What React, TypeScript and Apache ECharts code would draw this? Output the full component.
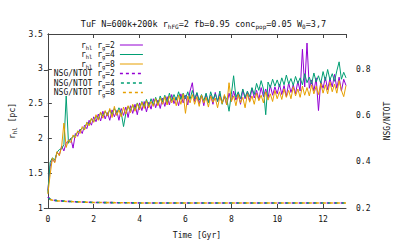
import React, { useEffect, useRef } from "react";
import * as echarts from "echarts";

const times = [
  0.0, 0.1, 0.2, 0.3, 0.4, 0.5, 0.6, 0.7, 0.8, 0.9,
  1.0, 1.1, 1.2, 1.3, 1.4, 1.5, 1.6, 1.7, 1.8, 1.9,
  2.0, 2.1, 2.2, 2.3, 2.4, 2.5, 2.6, 2.7, 2.8, 2.9,
  3.0, 3.1, 3.2, 3.3, 3.4, 3.5, 3.6, 3.7, 3.8, 3.9,
  4.0, 4.1, 4.2, 4.3, 4.4, 4.5, 4.6, 4.7, 4.8, 4.9,
  5.0, 5.1, 5.2, 5.3, 5.4, 5.5, 5.6, 5.7, 5.8, 5.9,
  6.0, 6.1, 6.2, 6.3, 6.4, 6.5, 6.6, 6.7, 6.8, 6.9,
  7.0, 7.1, 7.2, 7.3, 7.4, 7.5, 7.6, 7.7, 7.8, 7.9,
  8.0, 8.1, 8.2, 8.3, 8.4, 8.5, 8.6, 8.7, 8.8, 8.9,
  9.0, 9.1, 9.2, 9.3, 9.4, 9.5, 9.6, 9.7, 9.8, 9.9,
  10.0, 10.1, 10.2, 10.3, 10.4, 10.5, 10.6, 10.7, 10.8, 10.9,
  11.0, 11.1, 11.2, 11.3, 11.4, 11.5, 11.6, 11.7, 11.8, 11.9,
  12.0, 12.1, 12.2, 12.3, 12.4, 12.5, 12.6, 12.7, 12.8, 12.9,
  13.0,
];

const rhlRg2 = [
  1.25, 1.60, 1.70, 1.66, 1.80, 1.76, 1.89, 1.82, 1.94, 1.96,
  2.00, 1.86, 2.07, 2.03, 2.13, 2.07, 2.19, 2.14, 2.26, 2.19,
  2.31, 2.24, 2.35, 2.25, 2.39, 2.28, 2.37, 2.26, 2.41, 2.31,
  2.40, 2.26, 2.43, 2.33, 2.45, 2.30, 2.47, 2.36, 2.49, 2.34,
  2.51, 2.40, 2.53, 2.38, 2.52, 2.42, 2.57, 2.44, 2.55, 2.43,
  2.58, 2.46, 2.60, 2.48, 2.63, 2.50, 2.59, 2.47, 2.64, 2.51,
  2.62, 2.48, 2.68, 2.80, 2.53, 2.65, 2.50, 2.62, 2.47, 2.64,
  2.52, 2.62, 2.49, 2.66, 2.53, 2.64, 2.51, 2.60, 2.48, 2.65,
  2.53, 2.68, 2.55, 2.65, 2.49, 2.70, 2.57, 2.66, 2.54, 2.72,
  2.58, 2.69, 2.56, 2.73, 2.60, 2.71, 2.58, 2.76, 2.62, 2.74,
  2.64, 2.78, 2.63, 2.76, 2.60, 2.80, 2.66, 2.77, 2.64, 2.82,
  2.68, 3.28, 2.74, 3.37, 2.72, 2.84, 2.68, 2.87, 2.40, 2.82,
  2.72, 2.88, 2.70, 2.86, 2.74, 2.92, 2.72, 2.88, 2.68, 2.85,
  2.76,
];

const rhlRg4 = [
  1.22, 1.66, 1.72, 1.69, 1.80, 1.84, 1.85, 1.91, 2.61, 1.93,
  2.00, 2.02, 2.04, 2.09, 2.12, 2.15, 2.13, 2.23, 2.20, 2.28,
  2.24, 2.32, 2.28, 2.37, 2.32, 2.39, 2.33, 2.41, 2.34, 2.43,
  2.36, 2.44, 2.37, 2.17, 2.36, 2.46, 2.40, 2.48, 2.41, 2.51,
  2.43, 2.53, 2.45, 2.56, 2.46, 2.57, 2.48, 2.59, 2.49, 2.61,
  2.52, 2.62, 2.51, 2.65, 2.54, 2.63, 2.55, 2.67, 2.56, 2.65,
  2.57, 2.67, 2.56, 2.69, 2.57, 2.66, 2.55, 2.63, 2.54, 2.65,
  2.51, 2.67, 2.56, 2.64, 2.53, 2.68, 2.49, 2.61, 2.57, 2.39,
  2.63, 2.90, 2.59, 2.67, 2.57, 2.71, 2.59, 2.68, 2.60, 2.73,
  2.63, 2.79, 2.69, 2.83, 2.71, 2.34, 2.81, 2.73, 2.85, 2.75,
  2.84, 2.74, 2.87, 2.77, 2.91, 2.78, 2.86, 2.76, 2.89, 2.79,
  2.87, 2.77, 2.93, 2.80, 2.88, 2.78, 2.94, 2.81, 2.90, 2.79,
  2.96, 2.83, 2.99, 2.84, 2.93, 2.82, 2.97, 3.10, 2.85, 2.95,
  2.87,
];

const rhlRg8 = [
  1.20, 1.48, 1.72, 1.65, 1.81, 1.75, 1.88, 2.22, 1.87, 1.98,
  1.94, 2.05, 2.01, 2.11, 2.07, 2.17, 2.12, 2.23, 2.18, 2.29,
  2.23, 2.34, 2.26, 2.38, 2.29, 2.40, 2.32, 2.43, 2.30, 2.46,
  2.33, 2.41, 2.31, 2.45, 2.35, 2.47, 2.37, 2.49, 2.39, 2.50,
  2.41, 2.52, 2.43, 2.54, 2.44, 2.53, 2.46, 2.57, 2.47, 2.58,
  2.49, 2.60, 2.48, 2.61, 2.51, 2.59, 2.47, 2.62, 2.49, 2.64,
  2.36, 2.61, 2.51, 2.63, 2.49, 2.60, 2.46, 2.62, 2.51, 2.59,
  2.45, 2.61, 2.52, 2.58, 2.44, 2.60, 2.50, 2.63, 2.48, 2.80,
  2.53, 2.61, 2.47, 2.63, 2.51, 2.59, 2.44, 2.64, 2.52, 2.61,
  2.49, 2.65, 2.54, 2.62, 2.51, 2.67, 2.55, 2.64, 2.53, 2.69,
  2.57, 2.67, 2.56, 2.71, 2.59, 2.69, 2.57, 2.74, 2.61, 2.71,
  2.59, 2.75, 2.62, 2.73, 2.61, 2.77, 2.64, 2.75, 2.63, 2.79,
  2.65, 2.77, 2.64, 2.81, 2.67, 2.78, 2.65, 2.83, 2.69, 2.60,
  2.76,
];

const nsgTimes = [0, 0.1, 0.2, 0.4, 0.7, 1, 1.5, 2, 3, 4, 5, 6, 8, 10, 13];
const nsgRg2 = [0.248, 0.238, 0.234, 0.232, 0.230, 0.228, 0.226, 0.224, 0.223, 0.222, 0.222, 0.222, 0.222, 0.222, 0.222];
const nsgRg4 = [0.247, 0.238, 0.234, 0.232, 0.230, 0.228, 0.226, 0.224, 0.223, 0.222, 0.222, 0.222, 0.222, 0.222, 0.222];
const nsgRg8 = [0.246, 0.237, 0.234, 0.231, 0.229, 0.228, 0.226, 0.224, 0.223, 0.222, 0.222, 0.222, 0.222, 0.222, 0.222];

const seriesNames = [
  "r_hl r_g=2",
  "r_hl r_g=4",
  "r_hl r_g=8",
  "NSG/NTOT r_g=2",
  "NSG/NTOT r_g=4",
  "NSG/NTOT r_g=8",
];
const colors = ["#9400d3", "#009e73", "#e69f00"];

const titleText = "TuF N=600k+200k r_hFG=2 fb=0.95 conc_pop=0.05 W_0=3,7";
const xName = "Time [Gyr]";
const yName = "r_hl [pc]";
const y2Name = "NSG/NTOT";

const FONT = "DejaVu Sans Mono";
const TEXT = "#111";

function toRich(s: string): string {
  const parts = s.split(/_([A-Za-z0-9]+)/);
  let out = "";
  parts.forEach((p, i) => {
    if (p === "") return;
    out += i % 2 === 1 ? `{s|${p}}` : `{m|${p}}`;
  });
  return out;
}

function richStyles(size: number, sub: number, lh: number) {
  return {
    m: { fontFamily: FONT, fontSize: size, fontWeight: "normal", color: TEXT, lineHeight: lh, verticalAlign: "middle" },
    s: { fontFamily: FONT, fontSize: sub, fontWeight: "normal", color: TEXT, lineHeight: sub, verticalAlign: "bottom" },
    pad: { fontFamily: FONT, fontSize: 4, color: "#fff", lineHeight: lh },
  };
}

function pairs(xs: number[], ys: number[]) {
  return xs.map((x, i) => [x, ys[i]]);
}

export default function App() {
  const ref = useRef<HTMLDivElement>(null);
  useEffect(() => {
    const chart = echarts.init(ref.current!, null, { renderer: "svg" });
    const lineSeries = [rhlRg2, rhlRg4, rhlRg8].map((d, i) => ({
      name: seriesNames[i],
      type: "line",
      data: pairs(times, d),
      showSymbol: false,
      symbol: "none",
      lineStyle: { color: colors[i], width: 1 },
      itemStyle: { color: colors[i] },
      xAxisIndex: 0,
      yAxisIndex: 0,
      z: 2 + i,
    }));
    const dashSeries = [nsgRg2, nsgRg4, nsgRg8].map((d, i) => ({
      name: seriesNames[3 + i],
      type: "line",
      data: pairs(nsgTimes, d),
      showSymbol: false,
      symbol: "none",
      lineStyle: { color: colors[i], width: 1.6, type: [3, 4], dashOffset: -i * 1.3 },
      itemStyle: { color: colors[i] },
      xAxisIndex: 0,
      yAxisIndex: 1,
      z: 5 + i,
    }));
    const legendData = seriesNames.map((n, i) => ({
      name: n,
      itemStyle: { opacity: 0 },
      lineStyle:
        i < 3
          ? { color: colors[i], width: 1, type: "solid" }
          : { color: colors[i - 3], width: 1.6, type: [3, 3] },
    }));
    const axisLineStyle = { color: "#444", width: 1 };
    const labelStyle = { fontFamily: FONT, fontSize: 8, color: TEXT };
    chart.setOption({
      animation: false,
      backgroundColor: "#fff",
      title: {
        text: toRich(titleText),
        left: "center",
        top: 13,
        textStyle: { fontWeight: "normal", color: TEXT, rich: richStyles(8.5, 6, 11) },
      },
      legend: {
        orient: "vertical",
        left: 47,
        top: 36,
        align: "right",
        itemWidth: 23,
        itemHeight: 8,
        itemGap: 0,
        data: legendData,
        itemStyle: { opacity: 0 },
        formatter: (name: string) => (name.startsWith("r_hl") ? "{m|     }{pad|  }" : "") + toRich(name),
        textStyle: { color: TEXT, rich: richStyles(8, 5.5, 11) },
      },
      grid: { left: 47, right: 61, top: 34, bottom: 36, containLabel: false },
      xAxis: [
        {
          type: "value",
          min: 0,
          max: 13,
          interval: 2,
          position: "bottom",
          name: xName,
          nameLocation: "middle",
          nameGap: 23,
          nameTextStyle: { fontFamily: FONT, fontSize: 8, color: TEXT },
          axisLine: { show: true, lineStyle: axisLineStyle },
          axisTick: { show: true, inside: true, length: 4, lineStyle: axisLineStyle },
          axisLabel: { ...labelStyle, margin: 7, showMaxLabel: false },
          splitLine: { show: false },
        },
        {
          type: "value",
          min: 0,
          max: 13,
          interval: 2,
          position: "top",
          axisLine: { show: true, lineStyle: axisLineStyle },
          axisTick: { show: true, inside: true, length: 4, lineStyle: axisLineStyle },
          axisLabel: { show: false },
          splitLine: { show: false },
        },
      ],
      yAxis: [
        {
          type: "value",
          min: 1,
          max: 3.5,
          interval: 0.5,
          position: "left",
          name: toRich(yName),
          nameLocation: "middle",
          nameRotate: 90,
          nameGap: 30,
          nameTextStyle: { rich: richStyles(8, 6, 11) },
          axisLine: { show: true, lineStyle: axisLineStyle },
          axisTick: { show: true, inside: true, length: 4, lineStyle: axisLineStyle },
          axisLabel: { ...labelStyle, margin: 5, formatter: (v: number) => String(v) },
          splitLine: { show: false },
        },
        {
          type: "value",
          min: 0.2,
          max: 0.956,
          interval: 0.2,
          position: "right",
          name: y2Name,
          nameLocation: "middle",
          nameRotate: 90,
          nameGap: 37,
          nameTextStyle: { fontFamily: FONT, fontSize: 8, color: TEXT },
          axisLine: { show: true, lineStyle: axisLineStyle },
          axisTick: { show: true, inside: true, length: 4, lineStyle: axisLineStyle },
          axisLabel: { ...labelStyle, margin: 10, showMaxLabel: false, formatter: (v: number) => v.toFixed(1) },
          splitLine: { show: false },
        },
      ],
      series: [...lineSeries, ...dashSeries],
    });
    return () => chart.dispose();
  }, []);
  return <div ref={ref} style={{ position: "fixed", left: 0, top: 0, width: 407, height: 244 }} />;
}
